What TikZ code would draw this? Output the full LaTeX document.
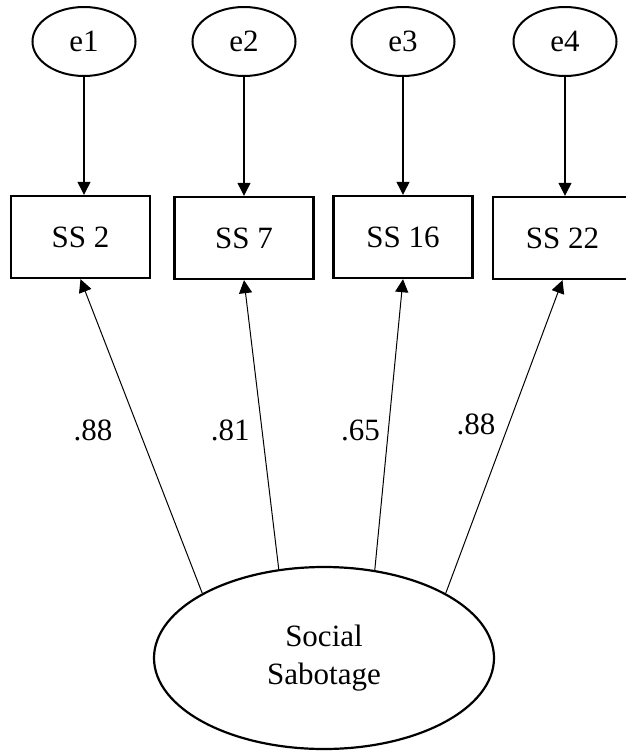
\documentclass[tikz,border=0pt]{standalone}
\usepackage{fontspec}
\setmainfont{Liberation Serif}
\usetikzlibrary{shapes.geometric,arrows.meta}

\begin{document}
\begin{tikzpicture}[x=1pt,y=-1pt,
    font=\fontsize{31}{38}\selectfont,
    err/.style={shape=ellipse,draw=black,line width=2pt,minimum width=103pt,minimum height=69pt,inner sep=0pt},
    item/.style={shape=rectangle,draw=black,line width=2.4pt,minimum width=139pt,minimum height=82pt,inner sep=0pt},
    latent/.style={shape=ellipse,draw=black,line width=2.2pt,minimum width=340pt,minimum height=182pt,inner sep=0pt,align=center},
    coef/.style={inner sep=0pt,pos=0.5},
    >={Triangle[length=13pt,width=13pt]}]
    \clip (0,0) rectangle (626,752);
    \useasboundingbox (0,0) rectangle (626,752);

    \node[err] (E1) at (84,41.5) {e1};
    \node[err] (E2) at (244,41.5) {e2};
    \node[err] (E3) at (403,41.5) {e3};
    \node[err] (E4) at (565,41.5) {e4};

    \node[item] (SS2) at (80.5,237) {SS 2};
    \node[item] (SS7) at (244,238) {SS 7};
    \node[item] (SS16) at (403,237) {SS 16};
    \node[item] (SS22) at (562.5,238) {SS 22};

    \node[latent] (Soc) at (324,658) {Social\\Sabotage};

    \path [->,line width=1.2pt] (E1.south) edge (E1.south |- SS2.north);
    \path [->,line width=1.2pt] (E2.south) edge (E2.south |- SS7.north);
    \path [->,line width=1.2pt] (E3.south) edge (E3.south |- SS16.north);
    \path [->,line width=1.2pt] (E4.south) edge (E4.south |- SS22.north);

    \path [->,line width=1pt] (Soc.152) edge node[coef,pos=0.52,left=26pt] {.88} (SS2.south);
    \path [->,line width=1pt] (Soc.117) edge node[coef,pos=0.48,left=12pt] {.81} (SS7.south);
    \path [->,line width=1pt] (Soc.60) edge node[coef,pos=0.48,left=8pt] {.65} (SS16.south);
    \path [->,line width=1pt] (Soc.28) edge node[coef,pos=0.54,left=13pt] {.88} (SS22.south);
\end{tikzpicture}
\end{document}
